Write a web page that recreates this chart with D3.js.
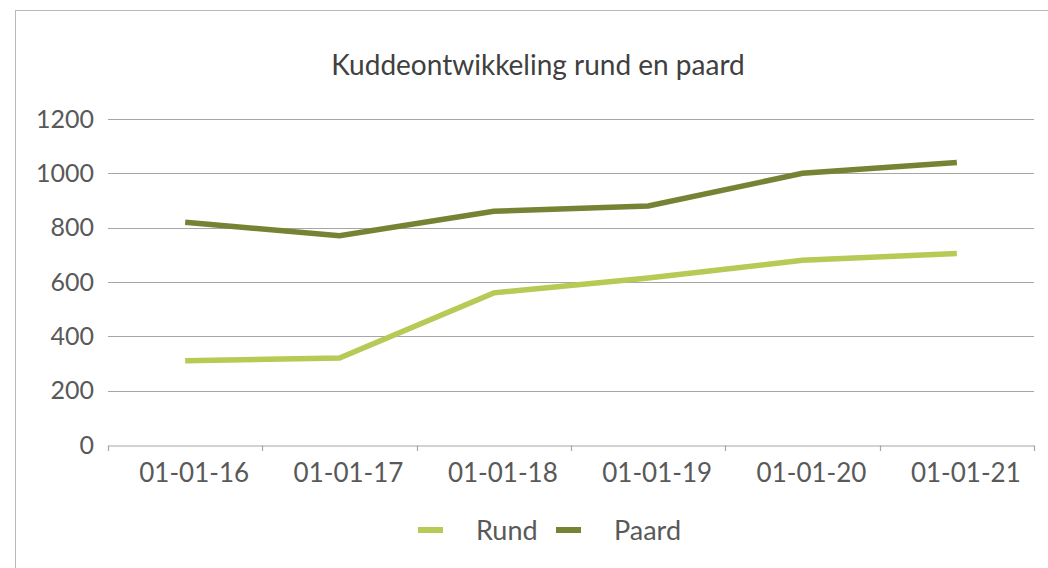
<!DOCTYPE html>
<html>
<head>
<meta charset="utf-8">
<script src="https://cdn.jsdelivr.net/npm/d3@7"></script>
<style>
  body { margin: 0; background: #fff; }
  svg { display: block; font-family: "Lato", "Open Sans", sans-serif; }
</style>
</head>
<body>
<div id="chart"></div>
<script>
const categories = ["01-01-16", "01-01-17", "01-01-18", "01-01-19", "01-01-20", "01-01-21"];
const rund = [310, 320, 560, 615, 680, 705];
const paard = [820, 770, 860, 880, 1000, 1040];
const yTicks = [0, 200, 400, 600, 800, 1000, 1200];
const seriesNames = ["Rund", "Paard"];
const seriesColors = ["#b6ca55", "#768334"];

const width = 1048, height = 568;
const margin = { left: 108, right: 14, top: 119, bottom: 123 };

const svg = d3.select("#chart").append("svg")
  .attr("width", width)
  .attr("height", height);

// outer chart frame
svg.append("rect")
  .attr("x", 15.5).attr("y", 10.5)
  .attr("width", 1100).attr("height", 700)
  .attr("fill", "none")
  .attr("stroke", "#b8b8b8")
  .attr("stroke-width", 1);

svg.append("text")
  .attr("x", 538).attr("y", 75)
  .attr("text-anchor", "middle")
  .style("font-size", "28px")
  .style("fill", "#404040")
  .text("Kuddeontwikkeling rund en paard");

const x = d3.scaleBand()
  .domain(categories)
  .range([margin.left, width - margin.right]);

const y = d3.scaleLinear()
  .domain([0, 1200])
  .range([height - margin.bottom, margin.top]);

// gridlines
svg.append("g")
  .selectAll("line")
  .data(yTicks.filter(d => d > 0))
  .enter().append("line")
  .attr("x1", margin.left).attr("x2", width - margin.right)
  .attr("y1", d => Math.round(y(d)) + 0.5)
  .attr("y2", d => Math.round(y(d)) + 0.5)
  .attr("stroke", "#a6a6a6")
  .attr("stroke-width", 1.2);

// y axis labels
const yAxis = svg.append("g")
  .attr("transform", `translate(${margin.left},0)`)
  .call(d3.axisLeft(y).tickValues(yTicks).tickFormat(d3.format("d")).tickSize(0).tickPadding(14));
yAxis.select(".domain").remove();
yAxis.selectAll("text")
  .style("font-size", "25px")
  .style("font-family", "Lato, 'Open Sans', sans-serif")
  .style("fill", "#595959");

// x axis
const xAxis = svg.append("g")
  .attr("transform", `translate(0,${Math.round(y(0)) + 0.5})`)
  .call(d3.axisBottom(x).tickSizeOuter(0).tickSizeInner(0).tickPadding(18));
xAxis.select(".domain")
  .attr("stroke", "#a6a6a6")
  .attr("stroke-width", 1.2);
xAxis.selectAll("text")
  .attr("dx", 9)
  .style("font-size", "26px")
  .style("font-family", "Lato, 'Open Sans', sans-serif")
  .style("fill", "#595959");

// category boundary ticks
const bounds = categories.map(c => x(c)).concat([x.range()[1]]);
svg.append("g")
  .selectAll("line")
  .data(bounds)
  .enter().append("line")
  .attr("x1", d => Math.round(d) + 0.5).attr("x2", d => Math.round(d) + 0.5)
  .attr("y1", Math.round(y(0)) + 0.5).attr("y2", Math.round(y(0)) + 6)
  .attr("stroke", "#a6a6a6")
  .attr("stroke-width", 1.2);

const line = d3.line()
  .x((d, i) => x(categories[i]) + x.bandwidth() / 2)
  .y(d => y(d));

[rund, paard].forEach((vals, i) => {
  svg.append("path")
    .datum(vals)
    .attr("d", line)
    .attr("fill", "none")
    .attr("stroke", seriesColors[i])
    .attr("stroke-width", 5.5)
    .attr("stroke-linejoin", "miter");
});

// legend
const legendX = [418, 556];
const legend = svg.append("g");
seriesNames.forEach((name, i) => {
  legend.append("line")
    .attr("x1", legendX[i]).attr("x2", legendX[i] + 25)
    .attr("y1", 530).attr("y2", 530)
    .attr("stroke", seriesColors[i])
    .attr("stroke-width", 6);
  legend.append("text")
    .attr("x", legendX[i] + 58).attr("y", 540)
    .style("font-size", "27px")
    .style("fill", "#595959")
    .text(name);
});
</script>
</body>
</html>
